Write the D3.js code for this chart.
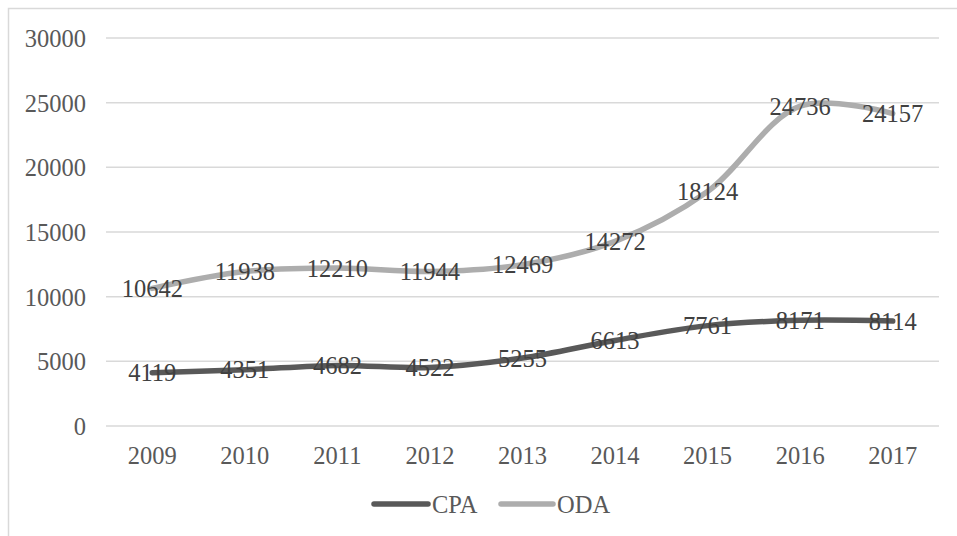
<!DOCTYPE html>
<html><head><meta charset="utf-8">
<script src="https://cdn.jsdelivr.net/npm/d3@7"></script>
<style>body{margin:0;background:#fff;}svg{display:block;}</style>
</head><body>
<svg id="c" width="957" height="536"></svg>
<script>
const years = ["2009","2010","2011","2012","2013","2014","2015","2016","2017"];
const cpaValues = [4119,4351,4682,4522,5255,6613,7761,8171,8114];
const odaValues = [10642,11938,12210,11944,12469,14272,18124,24736,24157];
const yTicks = [0,5000,10000,15000,20000,25000,30000];
const seriesNames = ["CPA","ODA"];

const svg = d3.select("#c");
const font = "'Liberation Serif','Times New Roman',serif";
const fs = 24.5;

svg.append("rect").attr("x",8.5).attr("y",8.5).attr("width",1000).attr("height",1000)
  .attr("fill","none").attr("stroke","#d9d9d9").attr("stroke-width",1.5);

const x = d3.scaleBand().domain(years).range([106,939]);
const y = d3.scaleLinear().domain([0,30000]).range([426,38]);

// gridlines
svg.append("g").selectAll("line").data(yTicks).join("line")
  .attr("x1",106).attr("x2",939).attr("y1",d=>y(d)).attr("y2",d=>y(d))
  .attr("stroke","#d9d9d9").attr("stroke-width",1.5);

// y axis labels
const yAxis = d3.axisLeft(y).tickValues(yTicks).tickSize(0).tickPadding(0).tickFormat(d3.format("d"));
const gy = svg.append("g").attr("transform","translate(86,0)").call(yAxis);
gy.select(".domain").remove();
gy.selectAll("text").attr("font-family",font).attr("font-size",fs).attr("fill","#595959").attr("dy","0.35em");

// x axis labels
const xAxis = d3.axisBottom(x).tickSize(0).tickPadding(0);
const gx = svg.append("g").attr("transform","translate(0,455)").call(xAxis);
gx.select(".domain").remove();
gx.selectAll("text").attr("font-family",font).attr("font-size",fs).attr("fill","#595959").attr("dy","0.35em");

const cx = d => x(d) + x.bandwidth()/2;
const line = d3.line().x(d=>cx(d.year)).y(d=>y(d.v)).curve(d3.curveCatmullRom.alpha(0.5));

const series = [
  {name:seriesNames[0], vals:cpaValues, color:"#595959"},
  {name:seriesNames[1], vals:odaValues, color:"#adadad"}
];

series.forEach(s=>{
  const pts = years.map((yr,i)=>({year:yr,v:s.vals[i]}));
  svg.append("path").datum(pts).attr("d",line).attr("fill","none")
    .attr("stroke",s.color).attr("stroke-width",5.5).attr("stroke-linecap","round").attr("stroke-linejoin","round");
});
series.forEach(s=>{
  const pts = years.map((yr,i)=>({year:yr,v:s.vals[i]}));
  svg.append("g").selectAll("text").data(pts).join("text")
    .attr("x",d=>cx(d.year)).attr("y",d=>y(d.v)).attr("dy","0.35em")
    .attr("text-anchor","middle").attr("font-family",font).attr("font-size",fs)
    .attr("fill","#404040").text(d=>d.v);
});

// legend
const leg = [{name:"CPA",color:"#595959",x1:374,x2:428,tx:432},{name:"ODA",color:"#adadad",x1:501,x2:553,tx:557}];
const lg = svg.append("g");
leg.forEach(l=>{
  lg.append("line").attr("x1",l.x1).attr("x2",l.x2).attr("y1",504).attr("y2",504)
    .attr("stroke",l.color).attr("stroke-width",5.5).attr("stroke-linecap","round");
  lg.append("text").attr("x",l.tx).attr("y",504).attr("dy","0.35em").attr("font-family",font)
    .attr("font-size",fs).attr("fill","#595959").text(l.name);
});
</script>
</body></html>
